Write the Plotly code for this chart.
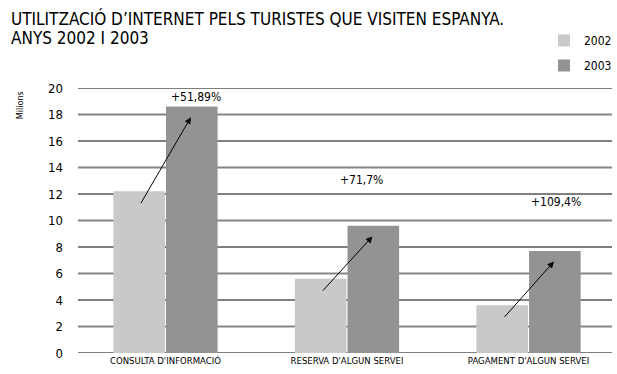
import plotly.graph_objects as go

# Internet use by tourists visiting Spain (millions)
categories = ["CONSULTA D'INFORMACIÓ", "RESERVA D'ALGUN SERVEI", "PAGAMENT D'ALGUN SERVEI"]
years = ["2002", "2003"]
values_2002 = [12.2, 5.6, 3.6]
values_2003 = [18.6, 9.6, 7.7]
growth_labels = ["+51,89%", "+71,7%", "+109,4%"]
y_ticks = list(range(0, 22, 2))
title_lines = ["UTILITZACIÓ D’INTERNET PELS TURISTES QUE VISITEN ESPANYA.", "ANYS 2002 I 2003"]

FONT = "DejaVu Sans Condensed, Liberation Sans Narrow, sans-serif"
C2002 = "#c9c9c9"
C2003 = "#939393"

W, H = 617, 374
L, R, T, B = 78, 5, 88, 21
PW, PH = W - L - R, H - T - B

fig = go.Figure()
for name, vals, col, grp in [(years[0], values_2002, C2002, "a"),
                             (years[1], values_2003, C2003, "b")]:
    fig.add_trace(go.Bar(x=list(range(len(categories))), y=vals, name=name,
                         legendgroup=grp,
                         marker=dict(color=col, line=dict(width=0))))

# alternating black / grey horizontal rules
shapes = []
for t in y_ticks:
    black = (t % 4 == 0)
    shapes.append(dict(type="line", xref="paper", x0=0, x1=1, yref="y", y0=t, y1=t,
                       line=dict(color="#000000" if black else "#858585",
                                 width=1 if black else 2),
                       layer="below"))

annotations = []
# growth arrows from each 2002 bar to its 2003 bar
dx = 0.14
for i, (a, b) in enumerate(zip(values_2002, values_2003)):
    annotations.append(dict(x=i + dx, y=b - 0.8, ax=i - dx, ay=a - 1.0,
                            xref="x", yref="y", axref="x", ayref="y",
                            showarrow=True, arrowhead=2, arrowsize=1.3,
                            arrowwidth=1, arrowcolor="#000000", text=""))

# growth labels
label_pos = [(0.17, 19.3), (0.08, 13.05), (0.15, 11.4)]
for i, (txt, (ox, ly)) in enumerate(zip(growth_labels, label_pos)):
    annotations.append(dict(x=i + ox, y=ly, xref="x", yref="y", text=txt,
                            showarrow=False, font=dict(family=FONT, size=12, color="#000")))

# unit label, rotated, in the left margin
annotations.append(dict(x=(13 - L) / PW, y=18.7, xref="paper", yref="y",
                        text="Milions", showarrow=False, textangle=-90,
                        font=dict(family=FONT, size=9, color="#000")))

# two-line heading
for k, line in enumerate(title_lines):
    annotations.append(dict(x=(9 - L) / PW, y=1 + (T - (18.5 + 20 * k)) / PH,
                            xref="paper", yref="paper", xanchor="left", yanchor="middle",
                            text=line, showarrow=False,
                            font=dict(family=FONT, size=17, color="#000")))

fig.update_layout(
    width=W, height=H,
    margin=dict(l=L, r=R, t=T, b=B, autoexpand=False),
    paper_bgcolor="white", plot_bgcolor="white",
    barmode="group", bargap=0.42, bargroupgap=0.02,
    font=dict(family=FONT, color="#000"),
    xaxis=dict(range=[-0.482, 2.46], tickmode="array", tickvals=list(range(len(categories))),
               ticktext=categories, showgrid=False, zeroline=False, showline=False,
               tickfont=dict(family=FONT, size=9.5, color="#000"), ticks=""),
    yaxis=dict(range=[0, 20], tickvals=y_ticks, showgrid=False, zeroline=False,
               showline=False, ticks="", ticklabelstandoff=14,
               tickfont=dict(family=FONT, size=13, color="#000")),
    legend=dict(x=1 + 5 / W, xref="container", xanchor="right",
                y=1 - 26 / H, yref="container", yanchor="top",
                font=dict(family=FONT, size=12, color="#000"),
                itemwidth=30, tracegroupgap=6, bgcolor="rgba(0,0,0,0)"),
    showlegend=True,
    shapes=shapes, annotations=annotations,
)

fig.write_html("out.html")
